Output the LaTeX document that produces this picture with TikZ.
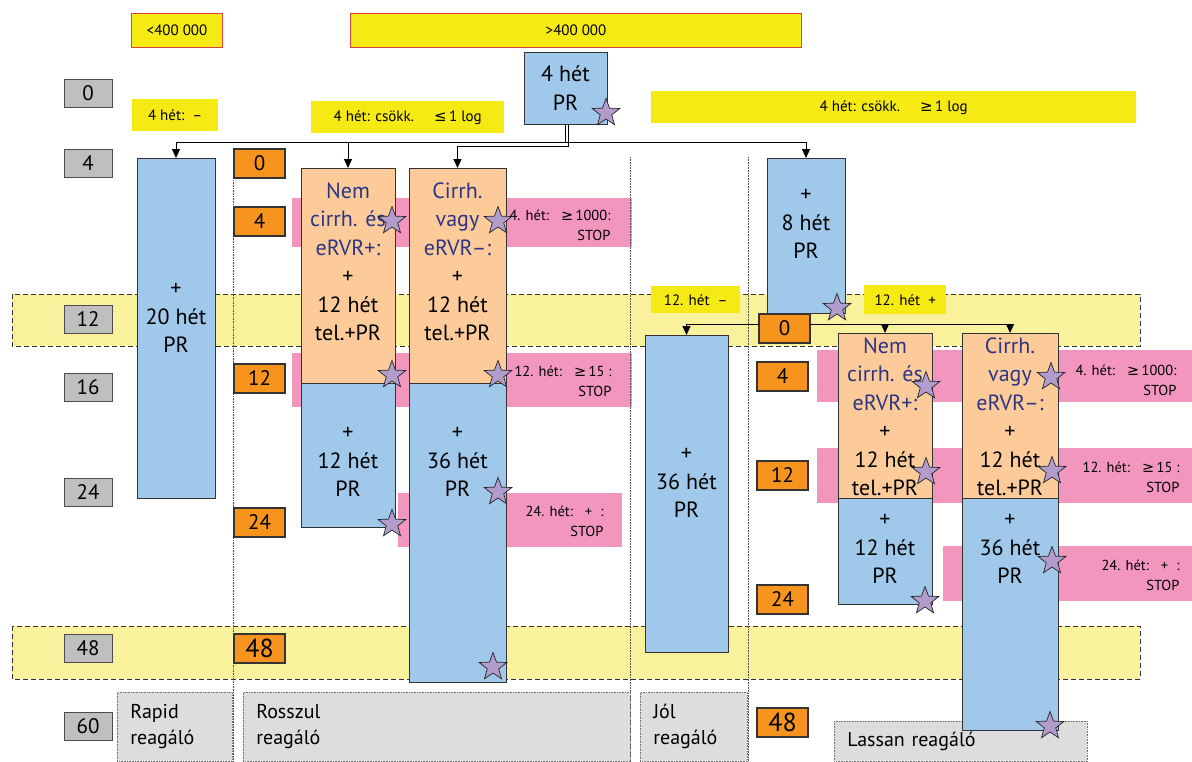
\documentclass[tikz,border=0pt]{standalone}
\usepackage{fontspec}
\setmainfont{PT Sans}
\newfontfamily\jelfont{DejaVu Sans}
\usetikzlibrary{arrows.meta,shapes.geometric}

\definecolor{cimkesarga}{RGB}{245,234,20}
\definecolor{savsarga}{RGB}{249,241,155}
\definecolor{prkek}{RGB}{159,200,234}
\definecolor{telnarancs}{RGB}{253,203,154}
\definecolor{hetnarancs}{RGB}{247,148,30}
\definecolor{stoprozsa}{RGB}{242,150,190}
\definecolor{hetszurke}{RGB}{192,191,191}
\definecolor{reagszurke}{RGB}{221,221,221}
\definecolor{csillaglila}{RGB}{177,156,204}
\definecolor{sotetkek}{RGB}{44,54,130}
\definecolor{keretpiros}{RGB}{224,64,60}

\newcommand{\nagyegy}{{\jelfont ≥}}
\newcommand{\kisegy}{{\jelfont ≤}}

\begin{document}
\begin{tikzpicture}[x=1pt, y=-1pt,
  doboz/.style={draw=black!80, line width=0.9pt, inner sep=0pt, outer sep=0pt, anchor=north west},
  kek/.style={doboz, fill=prkek},
  narancs/.style={doboz, fill=telnarancs},
  het/.style={doboz, fill=hetnarancs, line width=1.2pt, minimum width=51pt, minimum height=29pt, font=\fontsize{21}{24}\selectfont},
  szurke/.style={doboz, fill=hetszurke, draw=black!70, minimum width=48pt, minimum height=28pt, font=\fontsize{21}{24}\selectfont},
  cimke/.style={anchor=north west, fill=cimkesarga, inner sep=0pt, font=\fontsize{15}{18}\selectfont},
  hatar/.style={cimke, draw=keretpiros, line width=1pt},
  sav/.style={fill=savsarga, draw=black!80, dash pattern=on 5pt off 3pt, line width=0.9pt},
  stop/.style={fill=stoprozsa},
  stopszoveg/.style={anchor=east, align=right, font=\fontsize{14.5}{20}\selectfont},
  nagy/.style={align=center, font=\fontsize{22}{28.5}\selectfont},
  elvalaszto/.style={densely dotted, line width=0.6pt, black!70},
  reag/.style={anchor=north west, fill=reagszurke, draw=black!55, densely dotted, line width=0.6pt, inner xsep=13pt, inner ysep=0pt, align=left, font=\fontsize{20}{26}\selectfont},
  csillag/.style={star, star points=5, star point ratio=2.4, minimum size=29pt, inner sep=0pt, fill=csillaglila, draw=black!85, line width=0.7pt},
  nyil/.style={-{Triangle[length=9pt,width=8pt]}, line width=1pt}]
  \path[use as bounding box, fill=white] (0,0) rectangle (1192,761);

  % kontroll-idopontok (12. es 48. het)
  \draw[sav] (12,294) rectangle (1140,346);
  \draw[sav] (12,626) rectangle (1140,679);
  % STOP-savok
  \fill[stop] (292,198) rectangle (632,247);
  \fill[stop] (292,353) rectangle (632,407);
  \fill[stop] (398,493) rectangle (622,547);
  \fill[stop] (817,350) rectangle (1192,402);
  \fill[stop] (817,448) rectangle (1192,503);
  \fill[stop] (943,546) rectangle (1192,601);
  % oszlophatarok
  \draw[elvalaszto] (233,180) -- (233,761);
  \draw[elvalaszto] (630,157) -- (630,761);
  \draw[elvalaszto] (748,157) -- (748,761);

  % reagalo csoportok
  \node[reag, text width=89pt, minimum height=69pt] (rapid-r) at (117,692) {Rapid\\reagáló};
  \node[reag, text width=361pt, minimum height=69pt] (rossz-r) at (243,692) {Rosszul\\reagáló};
  \node[reag, text width=81pt, minimum height=69pt] (jol-r) at (640,692) {Jól\\reagáló};
  \node[reag, text width=227pt, minimum height=40pt] (lassu-r) at (834,721) {Lassan reagáló};

  % viruskoncentracio
  \node[hatar, minimum width=91pt, minimum height=34pt] (kisvir) at (131,13) {<400 000};
  \node[hatar, minimum width=451pt, minimum height=34pt] (nagyvir) at (350,13) {>400 000};

  % hetek a kezdettol
  \node[szurke] (s0) at (64,79) {0};
  \node[szurke] (s4) at (64,149) {4};
  \node[szurke] (s12) at (64,305) {12};
  \node[szurke] (s16) at (64,373) {16};
  \node[szurke] (s24) at (64,478) {24};
  \node[szurke] (s48) at (64,634) {48};
  \node[szurke] (s60) at (64,712) {60};
  % hetek a tel. kezdetetol
  \node[het] (r0) at (234,149) {0};
  \node[het] (r4) at (234,207) {4};
  \node[het] (r12) at (234,364) {12};
  \node[het] (r24) at (234,508) {24};
  \node[het, font=\fontsize{26}{28}\selectfont] (r48) at (234,634) {48};
  \node[het] (l4) at (757,362) {4};
  \node[het] (l12) at (757,461) {12};
  \node[het] (l24) at (757,585) {24};
  \node[het, font=\fontsize{26}{28}\selectfont] (l48) at (757,708) {48};

  % kezelesi szakaszok
  \node[kek, nagy, minimum width=83pt, minimum height=72pt] (start) at (524,52) {4 hét\\PR};
  \node[kek, minimum width=78pt, minimum height=340pt] (rapid) at (137,158) {};
  \node[narancs, minimum width=94pt, minimum height=215pt] (rnem) at (301,168) {};
  \node[kek, minimum width=94pt, minimum height=144pt] (rnemb) at (301,383) {};
  \node[narancs, minimum width=97pt, minimum height=215pt] (rcir) at (409,168) {};
  \node[kek, minimum width=97pt, minimum height=299pt] (rcirb) at (409,383) {};
  \node[kek, minimum width=78pt, minimum height=155pt] (jol8) at (767,158) {};
  \node[kek, minimum width=83pt, minimum height=317pt] (jol36) at (645,335) {};
  \node[het] (l0) at (759,314) {0};
  \node[narancs, minimum width=94pt, minimum height=165pt] (lnem) at (838,333) {};
  \node[kek, minimum width=94pt, minimum height=106pt] (lnemb) at (838,498) {};
  \node[narancs, minimum width=96pt, minimum height=165pt] (lcir) at (962,333) {};
  \node[kek, minimum width=96pt, minimum height=232pt] (lcirb) at (962,498) {};

  % szovegek
  \node[nagy] (rapid-t) at (176,318) {+\\20 hét\\PR};
  \node[nagy] (rnem-t) at (348,262) {\textcolor{sotetkek}{Nem}\\\textcolor{sotetkek}{cirrh. és}\\\textcolor{sotetkek}{eRVR+:}\\+\\12 hét\\tel.+PR};
  \node[nagy] (rnemb-t) at (348,462) {+\\12 hét\\PR};
  \node[nagy] (rcir-t) at (457.5,262) {\textcolor{sotetkek}{Cirrh.}\\\textcolor{sotetkek}{vagy}\\\textcolor{sotetkek}{eRVR–:}\\+\\12 hét\\tel.+PR};
  \node[nagy] (rcirb-t) at (457.5,462) {+\\36 hét\\PR};
  \node[nagy] (jol8-t) at (806,224) {+\\8 hét\\PR};
  \node[nagy] (jol36-t) at (686.5,483) {+\\36 hét\\PR};
  \node[nagy] (lnem-t) at (885,417) {\textcolor{sotetkek}{Nem}\\\textcolor{sotetkek}{cirrh. és}\\\textcolor{sotetkek}{eRVR+:}\\+\\12 hét\\tel.+PR};
  \node[nagy] (lnemb-t) at (885,549) {+\\12 hét\\PR};
  \node[nagy] (lcir-t) at (1010,417) {\textcolor{sotetkek}{Cirrh.}\\\textcolor{sotetkek}{vagy}\\\textcolor{sotetkek}{eRVR–:}\\+\\12 hét\\tel.+PR};
  \node[nagy] (lcirb-t) at (1010,549) {+\\36 hét\\PR};

  % valasz a 4. es 12. heten
  \node[cimke, minimum width=86pt, minimum height=32pt] (c4neg) at (132,99) {4 hét:\ \ –};
  \node[cimke, minimum width=193pt, minimum height=32pt] (c4kis) at (311,101) {4 hét: csökk.\hspace{20pt}\kisegy\,1 log};
  \node[cimke, minimum width=485pt, minimum height=32pt] (c4nagy) at (651,91) {4 hét: csökk.\hspace{20pt}\nagyegy\,1 log};
  \node[cimke, minimum width=89pt, minimum height=27pt] (c12neg) at (651,286) {12. hét\ \ –};
  \node[cimke, minimum width=82pt, minimum height=29pt] (c12poz) at (864,285) {12. hét\ \ +};

  % STOP szabalyok
  \node[stopszoveg] (rs1) at (614,225) {4. hét:\hspace{12pt}\nagyegy\,1000:\\STOP};
  \node[stopszoveg] (rs2) at (615,381) {12. hét:\hspace{12pt}\nagyegy\,15 :\\STOP};
  \node[stopszoveg] (rs3) at (607,521) {24. hét:\hspace{12pt}+\hspace{8pt}:\\STOP};
  \node[stopszoveg] (ls1) at (1180,380) {4. hét:\hspace{12pt}\nagyegy\,1000:\\STOP};
  \node[stopszoveg] (ls2) at (1183,477) {12. hét:\hspace{12pt}\nagyegy\,15 :\\STOP};
  \node[stopszoveg] (ls3) at (1183,575) {24. hét:\hspace{12pt}+\hspace{8pt}:\\STOP};

  % elagazasok
  \draw[nyil] (start.south) -- ++(0,18) -| (rapid.north);
  \draw[nyil] (start.south) -- ++(0,18) -| (rnem.north);
  \draw[nyil] (start.south) -- ++(0,18) -| (jol8.north);
  \draw[nyil] ([xshift=3pt]start.south) -- ++(0,22) -| (rcir.north);
  \draw[nyil] ([yshift=4pt]l0.west) -| (jol36.north);
  \draw[nyil] ([yshift=4pt]l0.east) -| (lnem.north);
  \draw[nyil] ([yshift=4pt]l0.east) -| (lcir.north);

  % HCV RNS meres
  \foreach \x/\y [count=\i] in {606/113, 392/221, 392/375, 392/524, 498/221, 498/375,
      498/492, 493/667, 837/308, 926/386, 926/472, 925/601, 1051/377, 1052/471,
      1052/561, 1050/726}
    \node[csillag] (meres\i) at (\x,\y) {};
\end{tikzpicture}
\end{document}
